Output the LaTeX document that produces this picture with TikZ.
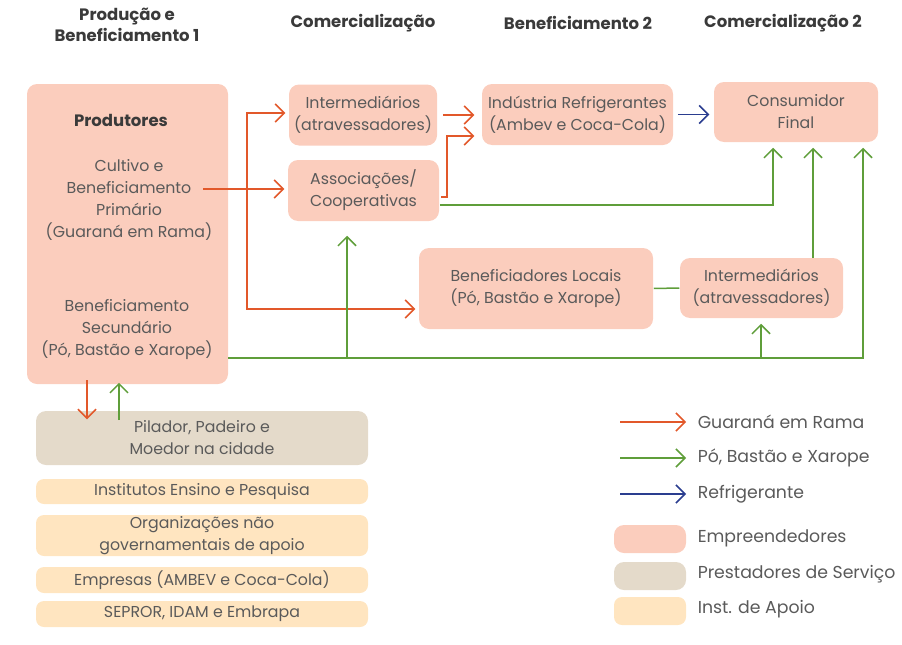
\documentclass[tikz,border=0pt]{standalone}
\usepackage{fontspec}
\setmainfont{Poppins}
\usetikzlibrary{arrows.meta, positioning}
\definecolor{salmon}{HTML}{FBCDBD}
\definecolor{beige}{HTML}{E4DACA}
\definecolor{cream}{HTML}{FFE5C0}
\definecolor{rama}{HTML}{E2582A}
\definecolor{pbx}{HTML}{5F9E3A}
\definecolor{refri}{HTML}{2A3D8F}
\definecolor{txtgray}{HTML}{5A5A5A}
\definecolor{ttlgray}{HTML}{3A3A3A}

\begin{document}
\begin{tikzpicture}[x=1pt,y=-1pt,>={Straight Barb[length=9pt,width=18pt]},
                    line width=1.5pt,text=txtgray,align=center,
                    font=\fontsize{15.8}{22}\selectfont]
  \tikzstyle{emp} = [rectangle, rounded corners=10pt, fill=salmon, inner sep=0pt]
  \tikzstyle{serv} = [rectangle, rounded corners=10pt, fill=beige, inner sep=0pt]
  \tikzstyle{apoio} = [rectangle, rounded corners=8pt, fill=cream, inner sep=0pt,
                       minimum width=332pt]
  \tikzstyle{title} = [text=ttlgray, font=\bfseries\fontsize{16.5}{21}\selectfont]
  \tikzstyle{guarana} = [->, draw=rama, shorten >=3pt]
  \tikzstyle{xarope} = [->, draw=pbx, shorten >=5pt]
  \tikzstyle{refrig} = [->, draw=refri, shorten >=4pt, shorten <=4pt]
  \tikzstyle{lgtext} = [anchor=west, inner sep=0pt, font=\fontsize{17.3}{22}\selectfont]
  \useasboundingbox (0,0) rectangle (902,645);

  % column titles
  \node [title] (tprod) at (127,25) {Produção e\\Beneficiamento 1};
  \node [title] (tcom) at (363,23) {Comercialização};
  \node [title] (tben) at (578,23) {Beneficiamento 2};
  \node [title] (tcom2) at (783,23) {Comercialização 2};

  % produtores
  \node [emp, minimum width=201pt, minimum height=300pt] (prod) at (127.5,234) {};
  \node [title] (prodlab) at (121,120) {Produtores};
  \node (cultivo) at (129,200) {Cultivo e\\Beneficiamento\\Primário\\(Guaraná em Rama)};
  \node (secund) at (127,330) {Beneficiamento\\Secundário\\(Pó, Bastão e Xarope)};

  % empreendedores
  \node [emp, minimum width=148pt, minimum height=61pt] (inter) at (363,115) {Intermediários\\(atravessadores)};
  \node [emp, minimum width=151pt, minimum height=61pt] (assoc) at (363.5,190.5) {Associações/\\Cooperativas};
  \node [emp, minimum width=191pt, minimum height=61pt] (ind) at (577.5,114.5) {Indústria Refrigerantes\\(Ambev e Coca-Cola)};
  \node [emp, minimum width=164pt, minimum height=60pt] (cons) at (796,112) {Consumidor\\Final};
  \node [emp, minimum width=234pt, minimum height=81pt] (benloc) at (536,288.5) {Beneficiadores Locais\\(Pó, Bastão e Xarope)};
  \node [emp, minimum width=163pt, minimum height=60pt] (inter2) at (761.5,288) {Intermediários\\(atravessadores)};

  % prestadores e apoio
  \node [serv, minimum width=332pt, minimum height=54pt] (pilador) at (202,438) {Pilador, Padeiro e\\Moedor na cidade};
  \node [apoio, minimum height=25pt] (inst) at (202,491.5) {Institutos Ensino e Pesquisa};
  \node [apoio, minimum height=41pt] (ong) at (202,535.5) {Organizações não\\governamentais de apoio};
  \node [apoio, minimum height=26pt] (empr) at (202,580) {Empresas (AMBEV e Coca-Cola)};
  \node [apoio, minimum height=26pt] (sepror) at (202,614) {SEPROR, IDAM e Embrapa};

  % guarana em rama
  \coordinate (cult) at (203,189);
  \coordinate (forkA) at (247,113);
  \coordinate (forkB) at (247,309);
  \coordinate (asA) at (441,197);
  \coordinate (asB) at (447,136);
  \coordinate (pdown) at (87,380);
  \draw [guarana] (cult) -- (cult -| assoc.west);
  \draw [guarana, <->, shorten <=3pt] (forkA -| inter.west) -- (forkA) -- (forkB) -- (forkB -| benloc.west);
  \draw [guarana, shorten >=7pt, shorten <=5pt] (inter.east) -- (inter.east -| ind.west);
  \draw [guarana, shorten >=7pt] (asA) -| (asB) -- (asB -| ind.west);
  \draw [guarana, shorten >=-9pt] (pdown) -- (pdown |- pilador.north);

  % po, bastao e xarope
  \coordinate (g1) at (773,205);
  \coordinate (g2) at (813,258);
  \coordinate (sec) at (228,358);
  \coordinate (g3) at (863,358);
  \coordinate (b1) at (347,358);
  \coordinate (b2) at (761,358);
  \coordinate (pup) at (119,420);
  \draw [xarope] (g1 -| assoc.east) -- (g1) -- (g1 |- cons.south);
  \draw [xarope] (g2) -- (g2 |- cons.south);
  \draw [xarope] (sec) -- (g3) -- (g3 |- cons.south);
  \draw [xarope, shorten >=14pt] (b1) -- (b1 |- assoc.south);
  \draw [xarope] (b2) -- (b2 |- inter2.south);
  \draw [draw=pbx] (benloc.east) -- (inter2.west);
  \draw [xarope, shorten >=-2pt] (pup) -- (pup |- prod.south);

  % refrigerante
  \draw [refrig] (ind.east) -- (ind.east -| cons.west);

  % legenda
  \coordinate (l1a) at (620,422); \coordinate (l1b) at (686,422);
  \coordinate (l2a) at (620,458); \coordinate (l2b) at (686,458);
  \coordinate (l3a) at (620,494); \coordinate (l3b) at (686,494);
  \draw [guarana, shorten >=0pt] (l1a) -- (l1b);
  \draw [xarope, shorten >=0pt] (l2a) -- (l2b);
  \draw [refrig, shorten >=0pt, shorten <=0pt] (l3a) -- (l3b);
  \node [lgtext] (lg1) at (697,422) {Guaraná em Rama};
  \node [lgtext] (lg2) at (697,458) {Pó, Bastão e Xarope};
  \node [lgtext] (lg3) at (697,494) {Refrigerante};
  \node [emp, minimum width=72pt, minimum height=28pt] (lgemp) at (650,539) {};
  \node [serv, minimum width=72pt, minimum height=28pt] (lgserv) at (650,576) {};
  \node [apoio, minimum width=72pt, minimum height=28pt] (lgapoio) at (650,611) {};
  \node [lgtext] (lg4) at (697,538) {Empreendedores};
  \node [lgtext] (lg5) at (697,574) {Prestadores de Serviço};
  \node [lgtext] (lg6) at (697,609) {Inst. de Apoio};
\end{tikzpicture}
\end{document}
